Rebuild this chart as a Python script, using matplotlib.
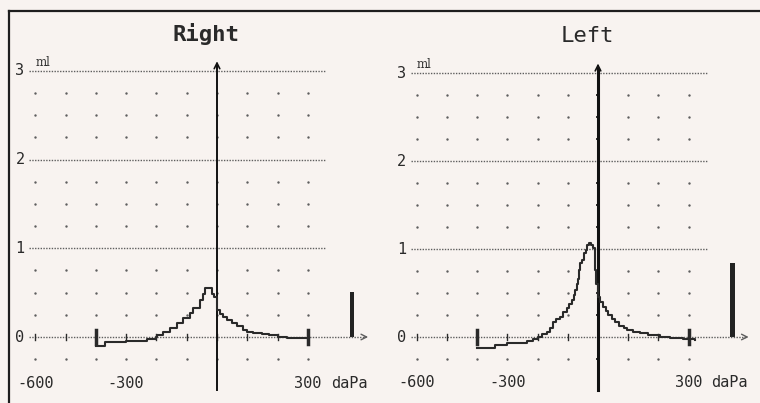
import numpy as np
import matplotlib.pyplot as plt


# tympanogram readings (pressure in daPa, compliance in ml)
right_pressure = [-400, -370, -300, -230, -200, -198, -178, -155, -132, -112, -89, -79,
                  -56, -46, -40, -17, -10, 0, 10, 20, 33, 50, 65, 85, 100, 120, 150,
                  170, 200, 230, 300]
right_ml = [-0.10, -0.06, -0.04, -0.02, 0.00, 0.02, 0.06, 0.10, 0.16, 0.21, 0.27, 0.33,
            0.42, 0.49, 0.55, 0.49, 0.45, 0.31, 0.26, 0.22, 0.19, 0.16, 0.12, 0.08, 0.06,
            0.04, 0.03, 0.02, 0.00, -0.01, -0.01]

left_pressure = [-400, -340, -300, -235, -215, -200, -185, -170, -160, -149, -138, -126,
                 -115, -103, -95, -86, -80, -76, -70, -66, -63, -58, -53, -46, -40, -35,
                 -30, -24, -18, -10, -5, 0, 8, 17, 25, 33, 45, 56, 70, 85, 96, 115, 140,
                 165, 205, 240, 281, 320]
left_ml = [-0.12, -0.09, -0.07, -0.04, -0.02, 0.00, 0.03, 0.06, 0.10, 0.17, 0.20, 0.23,
           0.28, 0.33, 0.38, 0.42, 0.48, 0.53, 0.60, 0.66, 0.76, 0.84, 0.88, 0.95, 0.99,
           1.04, 1.07, 1.05, 1.01, 0.76, 0.60, 0.46, 0.40, 0.34, 0.29, 0.25, 0.20, 0.17,
           0.13, 0.10, 0.08, 0.06, 0.04, 0.02, 0.00, -0.01, -0.02, -0.03]

right_bar = 0.51
left_bar = 0.84

y_levels = [0, 1, 2, 3]
y_dot_rows = [-0.25, 0.25, 0.5, 0.75, 1.25, 1.5, 1.75, 2.25, 2.5, 2.75]
x_columns = [-600, -500, -400, -300, -200, -100, 0, 100, 200, 300]
x_labels = ["-600", "-300", "300"]
x_label_pos = [-600, -300, 300]
sweep_limits = [-400, 300]

PAPER = "#f8f3f0"
INK = "#2a2a2a"
DOT = "#5e5e5e"
MONO = "DejaVu Sans Mono"


fig = plt.figure(figsize=(7.6, 4.03), dpi=100)
fig.patch.set_facecolor(PAPER)

# scan border (pixel coordinates)
bg = fig.add_axes([0, 0, 1, 1])
bg.set_xlim(0, 760)
bg.set_ylim(403, 0)
bg.axis("off")
bg.plot([9, 760], [11, 11], color="#1e1e1e", lw=1.6)
bg.plot([9, 9], [11, 403], color="#1e1e1e", lw=1.6)


def make_panel(left_px, right_px, zero_x, zero_y, px_per_dapa, px_per_ml):
    top_px, bottom_px = 11, 403
    ax = fig.add_axes([
        left_px / 760,
        1 - bottom_px / 403,
        (right_px - left_px) / 760,
        (bottom_px - top_px) / 403
    ])
    ax.set_xlim((left_px - zero_x) / px_per_dapa, (right_px - zero_x) / px_per_dapa)
    ax.set_ylim((zero_y - bottom_px) / px_per_ml, (zero_y - top_px) / px_per_ml)
    ax.axis("off")
    ax.patch.set_alpha(0)
    return ax


def draw_panel(ax, title, bold, pressure, ml, bar_height, thick_axis):

    ax.text(
        -35, 3.42, title,
        family=MONO,
        fontsize=16,
        fontweight="bold" if bold else "normal",
        ha="center",
        va="center",
        color=INK
    )

    # dotted reference lines
    for level in y_levels:
        end = 490 if level == 0 else 360
        ax.plot([-620, end], [level, level], color=DOT, lw=1.0,
                linestyle=(0, (1, 1.0)))

    ax.annotate(
        "", xy=(508, 0), xytext=(478, 0),
        arrowprops=dict(arrowstyle="->", color=DOT, lw=1.0)
    )

    # dot grid
    gx, gy = np.meshgrid(x_columns, y_dot_rows)
    ax.scatter(gx.ravel(), gy.ravel(), s=3, color=DOT, lw=0)

    # level labels
    for level in y_levels:
        ax.text(-650, level, str(level), family=MONO, fontsize=11,
                ha="center", va="center", color=INK)
    ax.text(-575, 3.1, "ml", family="DejaVu Serif", fontsize=8.5,
            ha="center", va="center", color=INK)

    # pressure axis labels
    for pos, lab in zip(x_label_pos, x_labels):
        ax.text(pos, -0.52, lab, family=MONO, fontsize=11,
                ha="center", va="center", color=INK)
    ax.text(375, -0.52, "daPa", family=MONO, fontsize=11,
            ha="left", va="center", color=INK)

    # small ticks on zero line
    for col in x_columns:
        ax.plot([col, col], [-0.03, 0.03], color=INK, lw=1)
    for lim in sweep_limits:
        ax.plot([lim, lim], [-0.08, 0.08], color=INK, lw=2.5)

    # vertical axis
    ax.plot([0, 0], [-0.6, 3.05], color="#111111",
            lw=2.2 if thick_axis else 1.4)
    ax.annotate(
        "", xy=(0, 3.14), xytext=(0, 3.0),
        arrowprops=dict(arrowstyle="->", color="#111111", lw=1.2)
    )
    if thick_axis:
        ax.scatter([0] * len(y_dot_rows), y_dot_rows, marker="_", s=12,
                   color="#111111", lw=1.2)

    ax.plot(pressure, ml, drawstyle="steps-post", color=INK, lw=1.5)

    ax.bar(445, bar_height, width=15, bottom=0, color="#222222")


ax_right = make_panel(12, 380, 217, 337, 0.303, 88.7)
draw_panel(ax_right, "Right", True, right_pressure, right_ml, right_bar, False)

ax_left = make_panel(385, 757, 598, 337, 0.302, 88.0)
draw_panel(ax_left, "Left", False, left_pressure, left_ml, left_bar, True)

fig.savefig("out.png", dpi=100, facecolor=PAPER)
